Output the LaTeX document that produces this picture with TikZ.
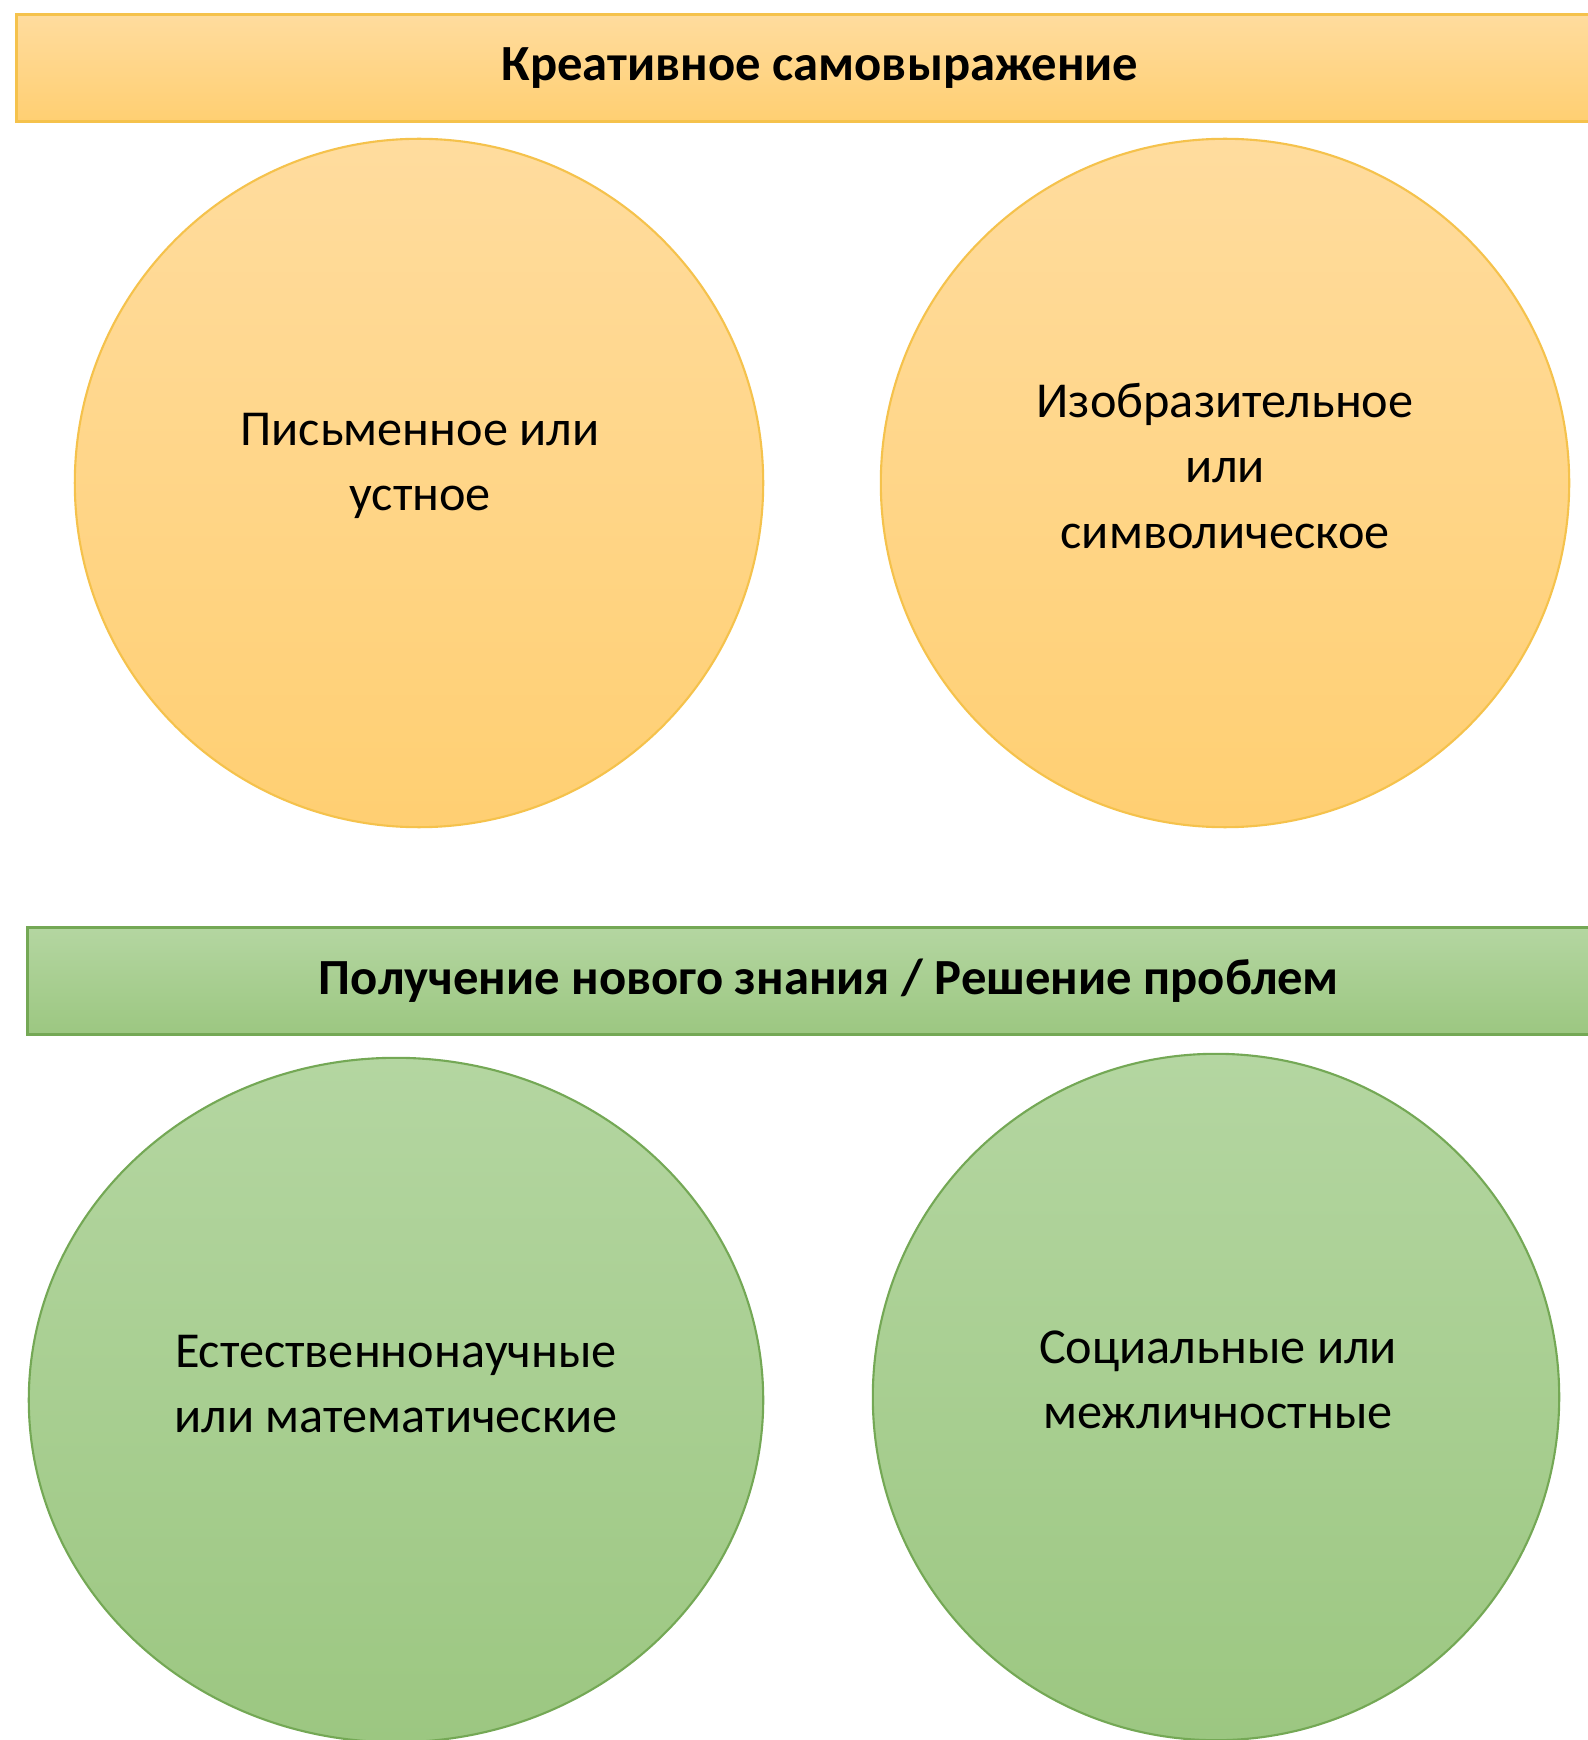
\documentclass[tikz,border=0pt]{standalone}
\usepackage{fontspec}
\setmainfont{Carlito}
\usetikzlibrary{shapes.geometric}

\definecolor{goldtop}{HTML}{FFDC9E}
\definecolor{goldbot}{HTML}{FFCF72}
\definecolor{goldline}{HTML}{F5C24C}
\definecolor{greentop}{HTML}{B4D6A1}
\definecolor{greenbot}{HTML}{9CC781}
\definecolor{greenline}{HTML}{74A855}

\begin{document}
\begin{tikzpicture}[x=0.01cm,y=-0.01cm]
\tikzstyle{bar} = [rectangle, line width=0.6pt, minimum height=1.07cm, text centered,
font=\fontsize{14.4}{17}\selectfont\bfseries]
\tikzstyle{goldbar} = [bar, draw=goldline, top color=goldtop, bottom color=goldbot]
\tikzstyle{greenbar} = [bar, draw=greenline, top color=greentop, bottom color=greenbot]
\tikzstyle{goldcirc} = [circle, line width=0.6pt, draw=goldline, top color=goldtop, bottom color=goldbot, minimum size=6.88cm, inner sep=0]
\tikzstyle{greencirc} = [line width=0.6pt, draw=greenline, top color=greentop, bottom color=greenbot, inner sep=0]
\tikzstyle{circtext} = [align=center, font=\fontsize{14.3}{18.6}\selectfont]
\useasboundingbox (0,0) rectangle (1587,1740);
\fill[white] (0,0) rectangle (1587,1740);
% creative
\node[goldbar, minimum width=16.06cm] (creative) at (820,68) {Креативное самовыражение};
\node[goldcirc] (oral) at (419,483) {};
\node[goldcirc] (visual) at (1225,483) {};
\node[circtext] (oraltext) at (420,466) {Письменное или\\устное};
\node[circtext] (visualtext) at (1225,466) {Изобразительное\\или\\символическое};
% knowledge
\node[greenbar, minimum width=16.02cm] (knowledge) at (829,981) {Получение нового знания / Решение проблем};
\node[greencirc, ellipse, minimum width=7.34cm, minimum height=6.84cm] (science) at (396,1400) {};
\node[greencirc, circle, minimum size=6.86cm] (social) at (1216,1397) {};
\node[circtext] (sciencetext) at (396,1384) {Естественнонаучные\\или математические};
\node[circtext] (socialtext) at (1218,1380) {Социальные или\\межличностные};
\end{tikzpicture}
\end{document}
